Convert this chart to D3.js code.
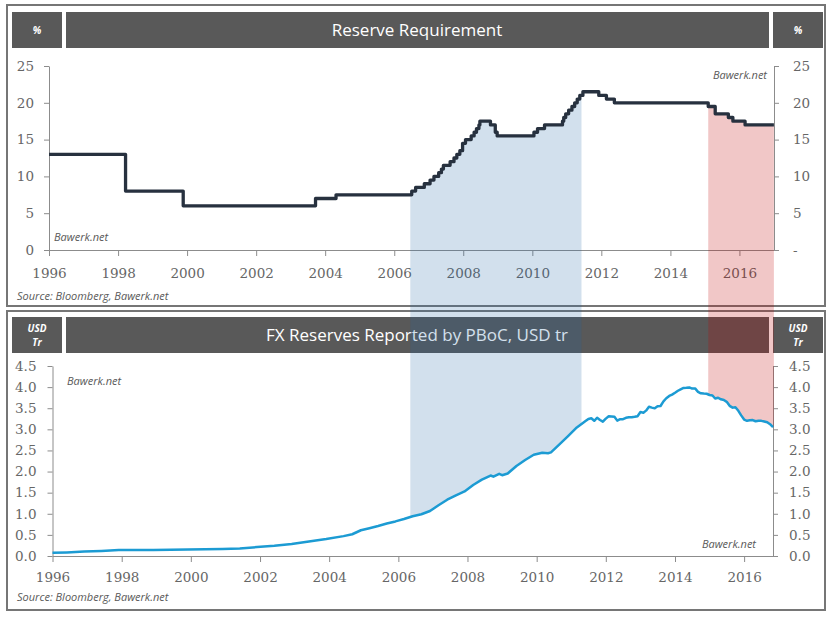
<!DOCTYPE html>
<html><head><meta charset="utf-8">
<script src="https://cdn.jsdelivr.net/npm/d3@7"></script>
<style>
html,body{margin:0;padding:0;background:#fff;}
svg{display:block;}
</style></head>
<body>
<svg id="c" width="832" height="617"></svg>
<script>
// ---------------- DATA ----------------
const rrrDates  = ["1996-01-01","1998-03-21","1999-11-21","2003-09-21","2004-04-25","2006-07-05","2006-08-15","2006-11-15","2007-01-15","2007-02-25","2007-04-16","2007-05-15","2007-06-05","2007-08-15","2007-09-25","2007-10-25","2007-11-26","2007-12-25","2008-01-25","2008-03-25","2008-04-25","2008-05-20","2008-06-15","2008-06-25","2008-10-15","2008-12-05","2008-12-25","2010-01-18","2010-02-25","2010-05-10","2010-11-16","2010-11-29","2010-12-20","2011-01-20","2011-02-24","2011-03-25","2011-04-21","2011-05-18","2011-06-20","2011-12-05","2012-02-24","2012-05-18","2015-02-05","2015-04-20","2015-09-06","2015-10-24","2016-03-01","2016-12-31"];
const rrrValues = [13,8,6,7,7.5,8,8.5,9,9.5,10,10.5,11,11.5,12,12.5,13,13.5,14.5,15,15.5,16,16.5,17,17.5,17,16,15.5,16,16.5,17,17.5,18,18.5,19,19.5,20,20.5,21,21.5,21,20.5,20,19.5,18.5,18,17.5,17,17];

const fxDates  = ["1996-01-01","1996-06-01","1996-12-01","1997-06-01","1997-12-01","1998-06-01","1998-12-01","1999-06-01","1999-12-01","2000-06-01","2000-12-01","2001-06-01","2001-12-01","2002-06-01","2002-12-01","2003-06-01","2003-12-01","2004-06-01","2004-09-01","2004-12-01","2005-03-01","2005-06-01","2005-09-01","2005-12-01","2006-03-01","2006-06-01","2006-09-01","2006-12-01","2007-03-01","2007-06-01","2007-09-01","2007-12-01","2008-03-01","2008-06-01","2008-09-01","2008-10-01","2008-12-01","2009-01-01","2009-03-01","2009-06-01","2009-09-01","2009-12-01","2010-03-01","2010-05-01","2010-06-01","2010-09-01","2010-12-01","2011-03-01","2011-06-01","2011-07-01","2011-08-01","2011-09-01","2011-10-01","2011-11-01","2011-12-01","2012-01-01","2012-02-01","2012-03-01","2012-04-01","2012-05-01","2012-06-01","2012-07-01","2012-08-01","2012-09-01","2012-10-01","2012-11-01","2012-12-01","2013-01-01","2013-02-01","2013-03-01","2013-04-01","2013-05-01","2013-06-01","2013-07-01","2013-08-01","2013-09-01","2013-10-01","2013-11-01","2013-12-01","2014-01-01","2014-02-01","2014-03-01","2014-04-01","2014-05-01","2014-06-01","2014-07-01","2014-08-01","2014-09-01","2014-10-01","2014-11-01","2014-12-01","2015-01-01","2015-02-01","2015-03-01","2015-04-01","2015-05-01","2015-06-01","2015-07-01","2015-08-01","2015-09-01","2015-10-01","2015-11-01","2015-12-01","2016-01-01","2016-02-01","2016-03-01","2016-04-01","2016-05-01","2016-06-01","2016-07-01","2016-08-01","2016-09-01","2016-10-01","2016-11-01"];
const fxValues = [0.075,0.085,0.105,0.12,0.14,0.141,0.145,0.147,0.155,0.159,0.166,0.18,0.212,0.243,0.286,0.346,0.403,0.471,0.515,0.61,0.659,0.711,0.769,0.819,0.875,0.941,0.988,1.066,1.202,1.333,1.434,1.528,1.682,1.809,1.906,1.879,1.946,1.913,1.954,2.132,2.273,2.399,2.447,2.435,2.454,2.648,2.847,3.045,3.197,3.245,3.262,3.202,3.274,3.221,3.181,3.254,3.31,3.305,3.299,3.206,3.24,3.24,3.273,3.285,3.287,3.297,3.312,3.41,3.395,3.443,3.535,3.515,3.497,3.548,3.553,3.663,3.736,3.79,3.821,3.866,3.914,3.948,3.981,3.984,3.993,3.966,3.969,3.888,3.853,3.847,3.843,3.813,3.802,3.73,3.748,3.711,3.694,3.651,3.557,3.514,3.525,3.438,3.33,3.231,3.202,3.213,3.22,3.192,3.205,3.201,3.185,3.166,3.121,3.052];

const yearTicks = [1996,1998,2000,2002,2004,2006,2008,2010,2012,2014,2016];
const rrrTicks = [0,5,10,15,20,25];
const fxTicks = [0,0.5,1,1.5,2,2.5,3,3.5,4,4.5];
const bandsBlue = ["2006-06-20","2011-06-05"];
const bandsRed  = ["2015-02-05","2016-12-31"];
const titleTop = "Reserve Requirement";
const titleBot = "FX Reserves Reported by PBoC, USD tr";
const unitTop = ["%"];
const unitBot = ["USD","Tr"];
const sourceText = "Source: Bloomberg, Bawerk.net";
const brand = "Bawerk.net";

// ---------------- SETUP ----------------
const P = d3.timeParse("%Y-%m-%d");
const rrr = rrrDates.map((d,i)=>({t:P(d), v:rrrValues[i]}));
const fx  = fxDates.map((d,i)=>({t:P(d), v:fxValues[i]}));
const svg = d3.select("#c");

const GREY = "#595959", FRAME="#767676", AX="#8c8c8c", TXT="#666666";
const tickFont = "'DejaVu Serif', serif";
const sansFont = "'Open Sans', sans-serif";

const xTop = d3.scaleTime().domain([P("1996-01-01"), P("2017-01-01")]).range([49, 774]);
const yTop = d3.scaleLinear().domain([0,25]).range([250, 66]);
const xBot = d3.scaleTime().domain([P("1996-01-01"), P("2016-11-01")]).range([52.5, 773]);
const yBot = d3.scaleLinear().domain([0,4.5]).range([556, 366]);

// Frames
[[5,306],[311,610]].forEach(([y0,y1])=>{
  svg.append("rect").attr("x",7).attr("y",y0).attr("width",818).attr("height",y1-y0)
    .attr("fill","#fff").attr("stroke",FRAME).attr("stroke-width",2);
});

// Title bars
function titleBar(y0, title, unit){
  const h = 36;
  svg.append("rect").attr("x",12).attr("y",y0).attr("width",50).attr("height",h).attr("fill",GREY);
  svg.append("rect").attr("x",66).attr("y",y0).attr("width",703).attr("height",h).attr("fill",GREY);
  svg.append("rect").attr("x",773).attr("y",y0).attr("width",50).attr("height",h).attr("fill",GREY);
  svg.append("text").attr("x",417).attr("y",y0+h/2).attr("dy","0.35em").attr("text-anchor","middle")
    .attr("fill","#fff").attr("font-family",sansFont).attr("font-size",17).text(title);
  [37, 798].forEach(cx=>{
    unit.forEach((u,i)=>{
      const off = unit.length===1 ? 0 : (i===0 ? -7 : 7);
      svg.append("text").attr("x",cx).attr("y",y0+h/2+off).attr("dy","0.35em").attr("text-anchor","middle")
        .attr("fill","#fff").attr("font-family",sansFont).attr("font-size",10).attr("font-weight","bold")
        .attr("font-style","italic").text(u);
    });
  });
}
titleBar(12, titleTop, unitTop);
titleBar(317, titleBot, unitBot);

function styleAxis(g){
  g.selectAll("path,line").attr("stroke",AX).attr("stroke-width",1);
  g.selectAll("text").attr("fill",TXT).attr("font-family",tickFont).attr("font-size",13.5);
}

// Top axes
svg.append("g").attr("transform",`translate(${xTop.range()[0]},0)`)
  .call(d3.axisLeft(yTop).tickValues(rrrTicks).tickSize(5).tickSizeOuter(0).tickPadding(10).tickFormat(d3.format("d")))
  .call(styleAxis);
svg.append("g").attr("transform",`translate(${xTop.range()[1]},0)`)
  .call(d3.axisRight(yTop).tickValues(rrrTicks).tickSize(5).tickSizeOuter(0).tickPadding(14).tickFormat(d=> d===0 ? "-" : d3.format("d")(d)))
  .call(styleAxis);
svg.append("g").attr("transform",`translate(0,${yTop(0)})`)
  .call(d3.axisBottom(xTop).tickValues(yearTicks.map(y=>new Date(y,0,1))).tickSize(6).tickSizeOuter(0).tickPadding(12).tickFormat(d3.timeFormat("%Y")))
  .call(styleAxis);

// Bottom axes
svg.append("g").attr("transform",`translate(${xBot.range()[0]},0)`)
  .call(d3.axisLeft(yBot).tickValues(fxTicks).tickSize(5).tickSizeOuter(0).tickPadding(11).tickFormat(d3.format(".1f")))
  .call(styleAxis);
svg.append("g").attr("transform",`translate(${xBot.range()[1]},0)`)
  .call(d3.axisRight(yBot).tickValues(fxTicks).tickSize(5).tickSizeOuter(0).tickPadding(11).tickFormat(d3.format(".1f")))
  .call(styleAxis);
svg.append("g").attr("transform",`translate(0,${yBot(0)})`)
  .call(d3.axisBottom(xBot).tickValues(yearTicks.map(y=>new Date(y,0,1))).tickSize(6).tickSizeOuter(0).tickPadding(10).tickFormat(d3.timeFormat("%Y")))
  .call(styleAxis);

// Brand & source texts
function itxt(x,y,anchor,s){
  svg.append("text").attr("x",x).attr("y",y).attr("dy","0.35em").attr("text-anchor",anchor)
    .attr("fill",GREY).attr("font-family",sansFont).attr("font-size",11).attr("font-style","italic").text(s);
}
itxt(54,237,"start",brand);
itxt(767,75,"end",brand);
itxt(67,381,"start",brand);
itxt(756,544,"end",brand);
itxt(17,296,"start",sourceText);
itxt(17,597,"start",sourceText);

// Connecting bands
const bisR = d3.bisector(d=>d.t).right;
function rrrAt(t){ const i = Math.max(0, bisR(rrr, t)-1); return rrr[i].v; }
function fxAt(t){
  if (t <= fx[0].t) return fx[0].v;
  if (t >= fx[fx.length-1].t) return fx[fx.length-1].v;
  const i = bisR(fx, t);
  const a = fx[i-1], b = fx[i];
  const k = (t - a.t)/(b.t - a.t);
  return a.v + k*(b.v-a.v);
}
function band(dates, color, op){
  const x0 = xTop(P(dates[0])), x1 = Math.min(xTop(P(dates[1])), xTop.range()[1]);
  const xs = d3.range(Math.ceil(x0), Math.floor(x1)+1, 0.5);
  xs.unshift(x0); xs.push(x1);
  const top = xs.map(px=>[px, yTop(rrrAt(xTop.invert(px-0.01)))]);
  const bot = xs.map(px=>[px, yBot(fxAt(xBot.invert(px)))]).reverse();
  svg.append("path").attr("d", d3.line()(top.concat(bot))+"Z")
    .attr("fill",color).attr("fill-opacity",op).attr("stroke","none");
}
band(bandsBlue, "rgb(31,100,165)", 0.2);
band(bandsRed, "rgb(192,0,0)", 0.22);

// Lines
svg.append("path").datum(rrr)
  .attr("d", d3.line().x(d=>xTop(d.t)).y(d=>yTop(d.v)).curve(d3.curveStepAfter))
  .attr("fill","none").attr("stroke","#27313f").attr("stroke-width",3.3).attr("stroke-linejoin","round");
svg.append("path").datum(fx)
  .attr("d", d3.line().x(d=>xBot(d.t)).y(d=>yBot(d.v)))
  .attr("fill","none").attr("stroke","#1c9bd3").attr("stroke-width",2.5).attr("stroke-linejoin","round");
</script>
</body></html>
